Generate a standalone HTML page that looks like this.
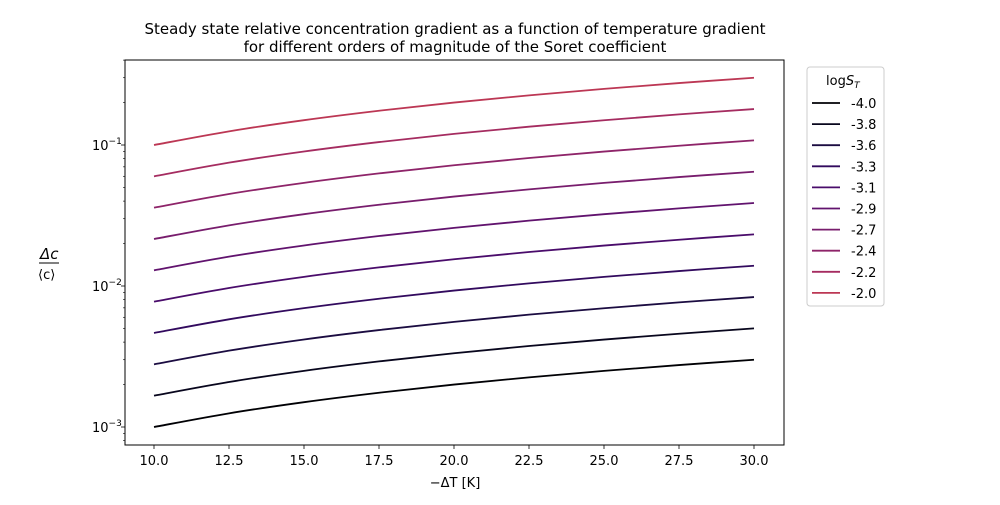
<!DOCTYPE html>
<html><head><meta charset="utf-8"><style>
body{margin:0;background:#fff;}
svg text{font-family:"DejaVu Sans","Liberation Sans",sans-serif;fill:#000;}
</style></head><body>
<svg id="chart" width="1000" height="500" viewBox="0 0 1000 500" xmlns="http://www.w3.org/2000/svg">
<rect width="1000" height="500" fill="#fff"/>
<text x="455" y="34" font-size="15" text-anchor="middle">Steady state relative concentration gradient as a function of temperature gradient</text>
<text x="455" y="52" font-size="15" text-anchor="middle">for different orders of magnitude of the Soret coefficient</text>
<g id="series"></g>
<rect x="125" y="60" width="659" height="385" fill="none" stroke="#000" stroke-width="1"/>
<g id="axes"></g>
<text x="455" y="487" font-size="13" text-anchor="middle">−ΔT [K]</text>
<g>
<text x="40" y="259" font-size="15" font-style="italic">Δc</text>
<line x1="39" y1="263" x2="59" y2="263" stroke="#000" stroke-width="1"/>
<text x="38" y="279" font-size="13">⟨c⟩</text>
</g>
<g id="legend">
<rect x="807" y="67" width="77" height="239" rx="3" fill="#fff" stroke="#ccc"/>
<text x="826" y="85" font-size="13">log<tspan font-style="italic">S</tspan><tspan font-style="italic" font-size="9" dy="3">T</tspan></text>
</g>
</svg>
<script>
const deltaT=[10,12.5,15,17.5,20,22.5,25,27.5,30];
const labels=["-4.0","-3.8","-3.6","-3.3","-3.1","-2.9","-2.7","-2.4","-2.2","-2.0"];
const s0=[0.001,0.00125,0.0015,0.00175,0.002,0.00225,0.0025,0.00275,0.003];
const s1=[0.001668,0.002085,0.002502,0.002919,0.003336,0.003753,0.00417,0.004587,0.005004];
const s2=[0.002783,0.003479,0.004175,0.00487,0.005566,0.006262,0.006958,0.007653,0.008349];
const s3=[0.004642,0.005803,0.006963,0.008124,0.009284,0.010445,0.011605,0.012766,0.013926];
const s4=[0.007743,0.009679,0.011615,0.01355,0.015486,0.017422,0.019358,0.021293,0.023229];
const s5=[0.01292,0.01615,0.01938,0.02261,0.02584,0.02907,0.0323,0.03553,0.03876];
const s6=[0.02154,0.02693,0.03231,0.0377,0.04308,0.04847,0.05385,0.05924,0.06462];
const s7=[0.03594,0.04493,0.05391,0.0629,0.07188,0.08087,0.08985,0.09884,0.10782];
const s8=[0.05995,0.07494,0.08993,0.10491,0.1199,0.13489,0.14988,0.16486,0.17985];
const s9=[0.1,0.125,0.15,0.175,0.2,0.225,0.25,0.275,0.3];
const xTicks=[10,12.5,15,17.5,20,22.5,25,27.5,30];
const yTicks=[-3,-2,-1];
const series=[s0,s1,s2,s3,s4,s5,s6,s7,s8,s9];
const colors=["#000004","#08061d","#1b0c41","#320a5e","#4a0c6b","#61136e","#781d6d","#8e2469","#a52c60","#bc3754"];
const NS="http://www.w3.org/2000/svg";
const X=v=>154+(v-10)*30;
const Y=v=>286-141*(Math.log10(v)+2);
function mk(t,a,p){const e=document.createElementNS(NS,t);for(const k in a)e.setAttribute(k,a[k]);p.appendChild(e);return e;}
function smooth(P){
 let d='M'+P[0][0]+','+P[0][1];
 for(let i=0;i<P.length-1;i++){
  const p0=P[Math.max(0,i-1)],p1=P[i],p2=P[i+1],p3=P[Math.min(P.length-1,i+2)];
  const c1=[p1[0]+(p2[0]-p0[0])/6,p1[1]+(p2[1]-p0[1])/6];
  const c2=[p2[0]-(p3[0]-p1[0])/6,p2[1]-(p3[1]-p1[1])/6];
  d+=' C'+c1[0]+','+c1[1]+' '+c2[0]+','+c2[1]+' '+p2[0]+','+p2[1];
 }
 return d;
}
const axes=document.getElementById('axes');
xTicks.forEach(t=>{
 const l=mk('line',{x1:X(t),x2:X(t),y1:445,y2:449,stroke:'#000','stroke-width':0.8},axes);
 
 
 const tx=mk('text',{x:X(t),y:465,'font-size':13,'text-anchor':'middle'},axes);
 tx.textContent=t.toFixed(1);
 
 
});
yTicks.forEach(p=>{
 const y=Y(Math.pow(10,p));
 const l=mk('line',{x1:121,x2:125,y1:y,y2:y,stroke:'#000','stroke-width':0.8},axes);
 
 
 const tx=mk('text',{x:92,y:y+5,'font-size':13},axes);
 tx.innerHTML='10<tspan font-size="9" dy="-6">−'+(-p)+'</tspan>';
 
 
});
for(let p=-4;p<=-1;p++)for(let m=2;m<=9;m++){
 const v=m*Math.pow(10,p),y=Y(v);
 if(y<60||y>445)continue;
 const l=mk('line',{x1:123,x2:125,y1:y,y2:y,stroke:'#000','stroke-width':0.6},axes);
 
 
}
const sg=document.getElementById('series'),lg=document.getElementById('legend');
series.forEach((s,i)=>{
 const P=s.map((v,j)=>[X(deltaT[j]),Y(v)]);
 const pl=mk('path',{d:smooth(P),fill:'none',stroke:colors[i],'stroke-width':1.8},sg);
 
 
 const y=103+i*21.1;
 const ll=mk('line',{x1:812,x2:840,y1:y,y2:y,stroke:colors[i],'stroke-width':1.8},lg);
 
 
 const lt=mk('text',{x:851,y:y+5,'font-size':13},lg);
 lt.textContent=labels[i];
 
 
});
</script>
</body></html>
